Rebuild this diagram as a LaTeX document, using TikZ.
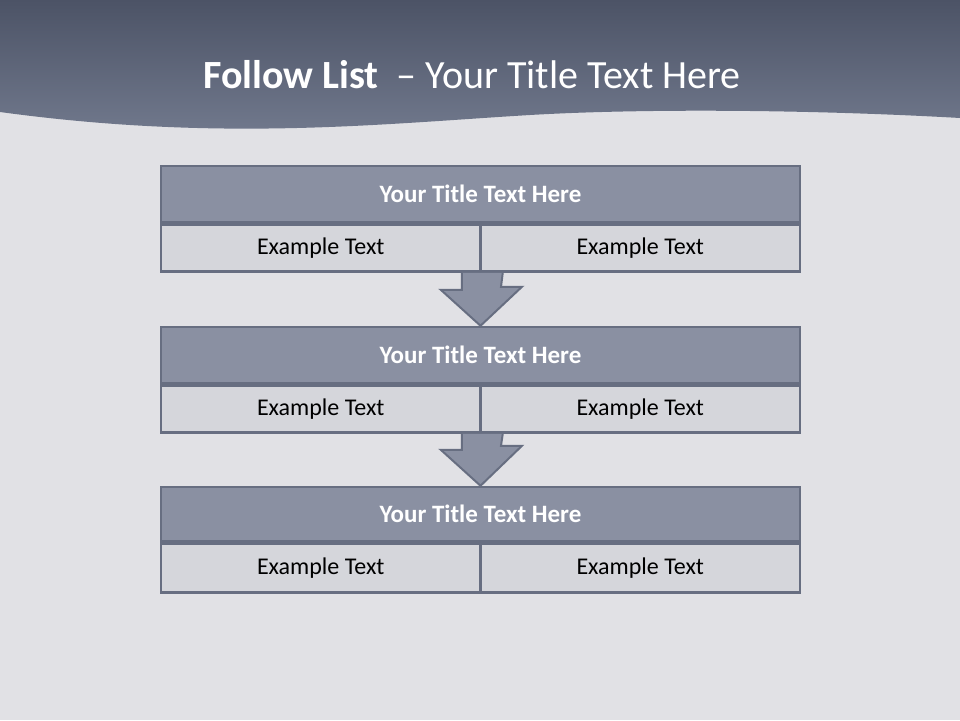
\documentclass[tikz,border=0pt]{standalone}
\usepackage{fontspec}
\setmainfont{Carlito}
\usetikzlibrary{calc}
\definecolor{bg}{HTML}{E1E1E5}
\definecolor{hdtop}{HTML}{4C5366}
\definecolor{hdbot}{HTML}{737B8F}
\definecolor{edge}{HTML}{676E81}
\definecolor{titlefill}{HTML}{8A90A2}
\definecolor{cellfill}{HTML}{D5D6DB}
\tikzset{
  titlerow/.style={draw=edge, line width=2.5pt, fill=titlefill, minimum width=639pt, minimum height=56pt, inner sep=0pt, font=\fontsize{25}{30}\selectfont\bfseries, text=white},
  cellbox/.style={draw=edge, line width=2.5pt, fill=cellfill, minimum width=319.5pt, minimum height=47pt, inner sep=0pt, font=\fontsize{24}{28}\selectfont, text=black},
  arrowshape/.style={draw=edge, line width=2pt, fill=titlefill, line join=miter}
}
\begin{document}
\begin{tikzpicture}[x=1pt,y=-1pt]
\useasboundingbox (0,0) rectangle (960,720);
\fill[bg] (0,0) rectangle (960,720);
% header
\shade[top color=hdtop, bottom color=hdbot]
  (0,0) -- (960,0) -- (960,118)
  .. controls (820,110) and (650,108) .. (530,115)
  .. controls (380,124) and (220,142) .. (0,112) -- cycle;
\node[text=white, font=\fontsize{40}{46}\selectfont, anchor=base] (title) at (472,88)
  {\textbf{Follow List}\ \ – Your Title Text Here};
% table 1
\node[titlerow] (t1) at (480.5,194) {Your Title Text Here};
\node[cellbox, anchor=north west] (c1a) at (t1.south west) {Example Text};
\node[cellbox, anchor=north east] (c1b) at (t1.south east) {Example Text};
% table 2
\node[titlerow] (t2) at (480.5,355) {Your Title Text Here};
\node[cellbox, anchor=north west] (c2a) at (t2.south west) {Example Text};
\node[cellbox, anchor=north east] (c2b) at (t2.south east) {Example Text};
% table 3
\node[titlerow, minimum height=54pt] (t3) at (480.5,514) {Your Title Text Here};
\node[cellbox, minimum height=49pt, anchor=north west] (c3a) at (t3.south west) {Example Text};
\node[cellbox, minimum height=49pt, anchor=north east] (c3b) at (t3.south east) {Example Text};
% arrows
\draw[arrowshape] ($(c1a.south east)+(-20,0)$) -- ++(0,17) -- ++(-21,0)
  -- (t2.north) -- ++(41.5,-39) -- ++(-21,0) -- ($(c1a.south east)+(21,0)$);
\draw[arrowshape] ($(c2a.south east)+(-20,0)$) -- ++(0,16) -- ++(-21,0)
  -- (t3.north) -- ++(41.5,-40) -- ++(-21,0) -- ($(c2a.south east)+(21,0)$);
\end{tikzpicture}
\end{document}
